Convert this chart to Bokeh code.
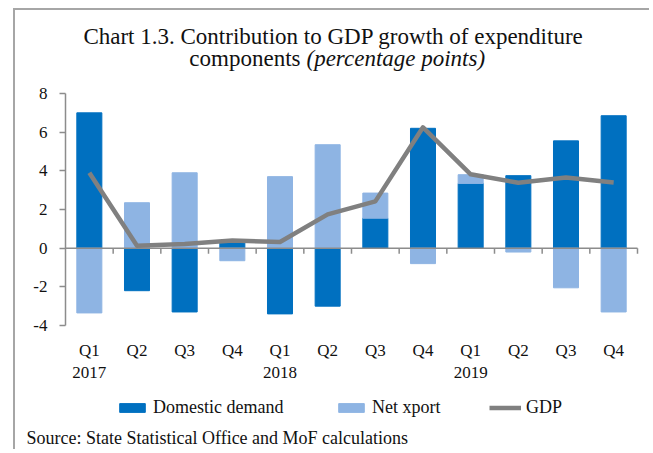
from bokeh.plotting import figure
from bokeh.models import Range1d, FixedTicker, Label, Legend, LegendItem
from bokeh.embed import file_html
from bokeh.resources import INLINE

quarters = ["Q1", "Q2", "Q3", "Q4", "Q1", "Q2", "Q3", "Q4", "Q1", "Q2", "Q3", "Q4"]
years = ["2017", "", "", "", "2018", "", "", "", "2019", "", "", ""]
domestic_demand = [7.0, -2.2, -3.3, 0.3, -3.4, -3.0, 1.55, 6.2, 3.35, 3.75, 5.55, 6.85]
net_export = [-3.35, 2.35, 3.9, -0.65, 3.7, 5.35, 1.3, -0.8, 0.45, -0.2, -2.05, -3.3]
gdp = [3.9, 0.12, 0.22, 0.4, 0.32, 1.75, 2.42, 6.25, 3.82, 3.38, 3.65, 3.4]
y_ticks = [-4, -2, 0, 2, 4, 6, 8]
y_min, y_max = -4, 8

FONT = "Liberation Serif"
TXT = "#111111"
C_DD = "#0070C0"
C_NX = "#8EB4E3"
C_GDP = "#808080"
AX = "#8c8c8c"

# ---- pixel layout of the canvas (width W, height H) ----
W, H = 636, 441
CH_LEFT, CH_RIGHT = 50, 14      # chart area insets
CH_TOP, CH_BOTTOM = 83, 126

n = len(quarters)
xs = list(range(1, n + 1))
bounds = [x + 0.5 for x in xs]
dd_bottom = [0.0] * n
dd_top = domestic_demand
nx_bottom = [d if (d >= 0) == (v >= 0) else 0.0 for d, v in zip(domestic_demand, net_export)]
nx_top = [b + v for b, v in zip(nx_bottom, net_export)]

px_x = (W - CH_LEFT - CH_RIGHT) / n
px_y = (H - CH_TOP - CH_BOTTOM) / (y_max - y_min)
x_lo = 0.5 - CH_LEFT / px_x
x_hi = n + 0.5 + CH_RIGHT / px_x
y_lo = y_min - CH_BOTTOM / px_y
y_hi = y_max + CH_TOP / px_y

p = figure(width=W, height=H, x_range=Range1d(x_lo, x_hi), y_range=Range1d(y_lo, y_hi),
           output_backend="svg", toolbar_location=None, min_border=0)
p.margin = (10, 0, 0, 15)
p.styles = {"box-shadow": "-2px -2px 0 0 #a6a6a6"}
p.outline_line_color = None
p.xgrid.visible = False
p.ygrid.visible = False

r_dd = p.vbar(x=xs, width=0.525, bottom=dd_bottom, top=dd_top, fill_color=C_DD, line_color=C_DD)
r_nx = p.vbar(x=xs, width=0.525, bottom=nx_bottom, top=nx_top, fill_color=C_NX, line_color=C_NX)

# zero line with category-boundary ticks
p.segment(x0=[0.5], y0=[0], x1=[n + 0.5], y1=[0], line_color=AX, line_width=1.5)
p.segment(x0=bounds, y0=[0] * n, x1=bounds, y1=[-5.5 / px_y] * n, line_color=AX, line_width=1.5)

r_gdp = p.line(xs, gdp, line_color=C_GDP, line_width=4.5, line_join="round")

ya = p.yaxis[0]
ya.fixed_location = 0.5
ya.bounds = (y_min, y_max)
ya.ticker = FixedTicker(ticks=y_ticks)
ya.major_label_overrides = {t: str(t) for t in y_ticks}
ya.axis_line_color = AX
ya.axis_line_width = 1.5
ya.major_tick_line_color = AX
ya.major_tick_line_width = 1.5
ya.major_tick_out = 6
ya.major_tick_in = 0
ya.minor_tick_line_color = None
ya.major_label_standoff = 12
ya.major_label_text_font = FONT
ya.major_label_text_font_size = "17px"
ya.major_label_text_color = TXT

xa = p.xaxis[0]
xa.fixed_location = y_min
xa.ticker = FixedTicker(ticks=xs)
xa.major_label_overrides = {x: (q + "\n" + y if y else q) for x, q, y in zip(xs, quarters, years)}
xa.axis_line_color = None
xa.major_tick_line_color = None
xa.minor_tick_line_color = None
xa.major_tick_out = 0
xa.major_label_standoff = 15
xa.major_label_text_font = FONT
xa.major_label_text_font_size = "17px"
xa.major_label_text_color = TXT
xa.major_label_text_line_height = 1.2

# title (screen units from canvas bottom-left)
p.add_layout(Label(x=318, y=415, x_units="screen", y_units="screen",
                   text="Chart 1.3. Contribution to GDP growth of expenditure",
                   text_align="center", text_baseline="alphabetic",
                   text_font=FONT, text_font_size="23px", text_color=TXT))
p.add_layout(Label(x=285, y=393, x_units="screen", y_units="screen",
                   text="components", text_align="right", text_baseline="alphabetic",
                   text_font=FONT, text_font_size="23px", text_color=TXT))
p.add_layout(Label(x=291, y=393, x_units="screen", y_units="screen",
                   text="(percentage points)", text_align="left", text_baseline="alphabetic",
                   text_font=FONT, text_font_size="23px", text_font_style="italic",
                   text_color=TXT))

def add_legend(label, renderer, xpos):
    p.add_layout(Legend(items=[LegendItem(label=label, renderers=[renderer])],
                        location=(xpos, 33), orientation="horizontal", padding=0, margin=0,
                        border_line_color=None, background_fill_alpha=0,
                        glyph_width=32, glyph_height=11, label_standoff=5,
                        label_text_font=FONT, label_text_font_size="18px",
                        label_text_color=TXT, label_height=20))

add_legend("Domestic demand", r_dd, 101)
add_legend("Net xport", r_nx, 320)
add_legend("GDP", r_gdp, 474)

p.add_layout(Label(x=11, y=14, x_units="screen", y_units="screen",
                   text="Source: State Statistical Office and MoF calculations",
                   text_align="left", text_baseline="alphabetic",
                   text_font=FONT, text_font_size="18px", text_color=TXT))

open("out.html", "w").write(file_html(p, INLINE))
